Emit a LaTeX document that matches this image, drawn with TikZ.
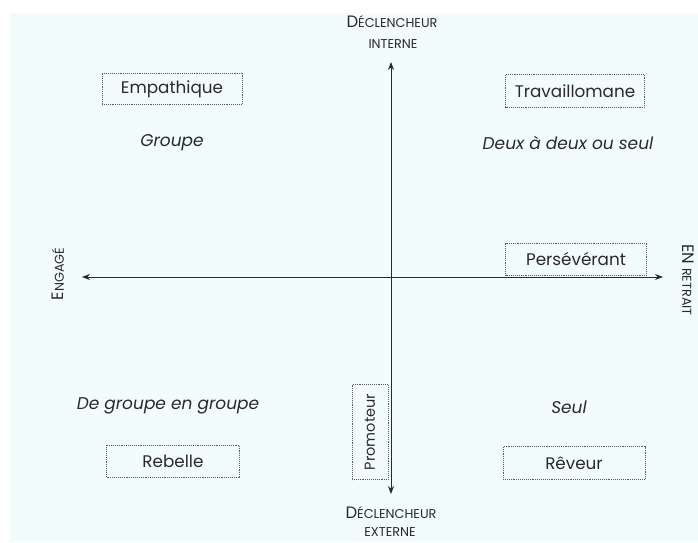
\documentclass[tikz,border=0pt]{standalone}
\usepackage{fontspec}
\setmainfont{Poppins}
\usetikzlibrary{arrows.meta}
\definecolor{bgc}{HTML}{F2FCFD}
\definecolor{ink}{HTML}{2A2A2A}
\newcommand{\bigc}[1]{{\fontsize{16.5}{18}\selectfont #1}}
\newcommand{\smc}[1]{{\fontsize{12.8}{14}\selectfont #1}}
\tikzset{
  axis/.style={draw=ink, line width=0.8pt, -{Stealth[length=8pt,width=6pt]}},
  typebox/.style={draw=gray!70!black, densely dotted, line width=0.9pt, inner sep=0pt,
     text=ink, font=\fontsize{16.8}{18}\selectfont},
  zone/.style={text=ink, font=\fontsize{17}{19}\selectfont\itshape},
  pole/.style={text=ink, align=center, inner sep=0pt}
}
\begin{document}
\begin{tikzpicture}[x=1pt,y=-1pt]
\useasboundingbox (0,0) rectangle (698,542);
\fill[white] (0,0) rectangle (698,542);
\fill[bgc] (10,13) rectangle (698,542);
% centre point
\coordinate (c) at (391,277);
\coordinate (top) at (391,62);
\coordinate (bot) at (391,494);
\coordinate (left) at (82,277);
\coordinate (right) at (663,277);
\draw[axis] (c) -- (top);
\draw[axis] (c) -- (bot);
\draw[axis] (c) -- (left);
\draw[axis] (c) -- (right);
% pole labels
\node[pole] (din) at (392,22) {\bigc{D}\smc{ÉCLENCHEUR}};
\node[pole] (din2) at (393,44) {\smc{INTERNE}};
\node[pole] (dex) at (391,513) {\bigc{D}\smc{ÉCLENCHEUR}};
\node[pole] (dex2) at (390,532) {\smc{EXTERNE}};
\node[pole, rotate=90] (eng) at (58,274) {\bigc{E}\smc{NGAGÉ}};
\node[pole, rotate=-90] (ret) at (688,280) {\bigc{EN}\hspace{4pt}\smc{RETRAIT}};
% type boxes
\node[typebox, minimum width=140pt, minimum height=31pt] (emp) at (172,89) {Empathique};
\node[typebox, minimum width=139pt, minimum height=33pt] (trav) at (575,91) {Travaillomane};
\node[typebox, minimum width=141pt, minimum height=32pt] (pers) at (576,259) {Persévérant};
\node[typebox, minimum width=133pt, minimum height=32pt] (reb) at (173,461) {Rebelle};
\node[typebox, minimum width=142pt, minimum height=33pt] (rev) at (574,463) {Rêveur};
\node[typebox, minimum width=95pt, minimum height=36pt, rotate=90, font=\fontsize{14.5}{16}\selectfont] (prom) at (370,432) {Promoteur};
% zone labels
\node[zone] (g1) at (172,143) {Groupe};
\node[zone] (g2) at (568,143) {Deux à deux ou seul};
\node[zone] (g3) at (168,406) {De groupe en groupe};
\node[zone] (g4) at (569,407) {Seul};
\end{tikzpicture}
\end{document}
